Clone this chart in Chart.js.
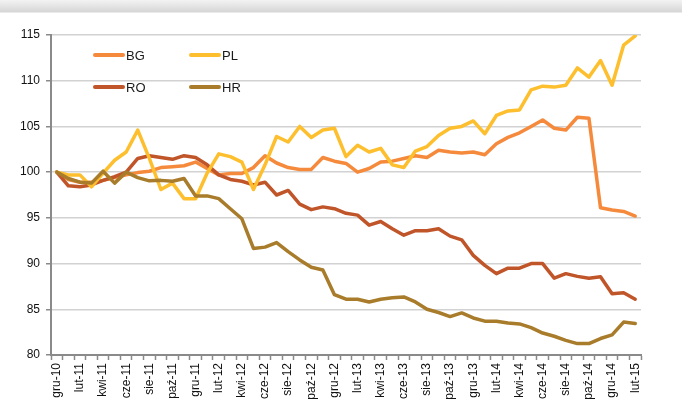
<!DOCTYPE html>
<html>
<head>
<meta charset="utf-8">
<script src="https://cdn.jsdelivr.net/npm/chart.js@4"></script>
<style>
  html, body { margin: 0; padding: 0; }
  body {
    width: 682px; height: 419px; overflow: hidden;
    background: linear-gradient(#f3f3f3 0px, #d6d6d6 12px, #ffffff 13px);
  }
  canvas { display: block; }
</style>
</head>
<body>
<canvas id="chart" width="682" height="419"></canvas>
<script>
// Miesiace od gru-10 do lut-15
const months = [
  'gru-10', 'sty-11', 'lut-11', 'mar-11', 'kwi-11', 'maj-11', 'cze-11', 'lip-11', 'sie-11', 'wrz-11',
  'paź-11', 'lis-11', 'gru-11', 'sty-12', 'lut-12', 'mar-12', 'kwi-12', 'maj-12', 'cze-12', 'lip-12',
  'sie-12', 'wrz-12', 'paź-12', 'lis-12', 'gru-12', 'sty-13', 'lut-13', 'mar-13', 'kwi-13', 'maj-13',
  'cze-13', 'lip-13', 'sie-13', 'wrz-13', 'paź-13', 'lis-13', 'gru-13', 'sty-14', 'lut-14', 'mar-14',
  'kwi-14', 'maj-14', 'cze-14', 'lip-14', 'sie-14', 'wrz-14', 'paź-14', 'lis-14', 'gru-14', 'sty-15',
  'lut-15',
];

const bgValues = [
  100, 99.2, 98.9, 98.9, 99.1, 99.4, 99.7, 99.95, 100.1, 100.5,
  100.6, 100.7, 101.1, 100.4, 99.7, 99.85, 99.85, 100.5, 101.8, 101.0,
  100.5, 100.3, 100.3, 101.6, 101.2, 100.95, 100.0, 100.4, 101.1, 101.2,
  101.5, 101.8, 101.6, 102.4, 102.2, 102.1, 102.2, 101.9, 103.1, 103.8,
  104.3, 105.0, 105.7, 104.8, 104.6, 106.0, 105.9, 96.1, 95.85, 95.7,
  95.2,
];

const plValues = [
  100, 99.7, 99.7, 98.4, 99.9, 101.3, 102.2, 104.6, 101.5, 98.1,
  98.8, 97.1, 97.1, 99.9, 102.0, 101.7, 101.1, 98.1, 100.8, 103.9,
  103.3, 105.0, 103.8, 104.6, 104.8, 101.7, 102.95, 102.2, 102.6, 100.8,
  100.5, 102.3, 102.8, 104.0, 104.8, 105.0, 105.6, 104.2, 106.2, 106.7,
  106.8, 109.0, 109.4, 109.3, 109.5, 111.4, 110.4, 112.2, 109.5, 113.9,
  114.9,
];

const roValues = [
  100, 98.5, 98.4, 98.6, 99.1, 99.5, 100.0, 101.5, 101.8, 101.6,
  101.4, 101.8, 101.6, 100.8, 99.7, 99.2, 99.0, 98.6, 98.9, 97.5,
  98.0, 96.5, 95.9, 96.2, 96.0, 95.5, 95.3, 94.2, 94.6, 93.8,
  93.1, 93.6, 93.6, 93.8, 93.0, 92.6, 90.9, 89.8, 88.9, 89.5,
  89.5, 90.0, 90.0, 88.4, 88.9, 88.6, 88.4, 88.55, 86.7, 86.8,
  86.1,
];

const hrValues = [
  100, 99.3, 98.9, 98.8, 100.1, 98.8, 100.0, 99.4, 99.05, 99.1,
  99.0, 99.3, 97.4, 97.4, 97.1, 96.0, 94.9, 91.65, 91.8, 92.3,
  91.3, 90.4, 89.6, 89.3, 86.6, 86.1, 86.1, 85.8, 86.1, 86.25,
  86.35, 85.8, 85.0, 84.65, 84.2, 84.6, 84.05, 83.7, 83.7, 83.5,
  83.4, 83.0, 82.4, 82.05, 81.6, 81.25, 81.25, 81.8, 82.2, 83.6,
  83.45,
];

const seriesNames = ['BG', 'PL', 'RO', 'HR'];
const seriesColors = ['#f58a3c', '#fdbf2d', '#c1552a', '#a87c2b'];
const seriesValues = [bgValues, plValues, roValues, hrValues];
// kolejnosc rysowania (nizsza = na wierzchu)
const drawOrder = [4, 2, 3, 1];

const FONT = '"Liberation Sans", Arial, sans-serif';

// legenda wewnatrz wykresu, w dwoch kolumnach
const insideLegend = {
  id: 'insideLegend',
  afterDatasetsDraw(chart) {
    const ctx = chart.ctx;
    const slots = [[93, 55], [189, 55], [93, 87], [189, 87]];
    ctx.save();
    ctx.lineCap = 'round';
    ctx.lineWidth = 4;
    ctx.font = '13px ' + FONT;
    ctx.textBaseline = 'middle';
    ctx.fillStyle = '#1a1a1a';
    seriesNames.forEach((name, i) => {
      const [x, y] = slots[i];
      ctx.strokeStyle = seriesColors[i];
      ctx.beginPath();
      ctx.moveTo(x + 2, y);
      ctx.lineTo(x + 30, y);
      ctx.stroke();
      ctx.fillText(name, x + 33, y + 1);
    });
    ctx.restore();
  },
};

const data = {
  labels: months,
  datasets: seriesNames.map((name, i) => ({
    label: name,
    data: seriesValues[i],
    borderColor: seriesColors[i],
    backgroundColor: seriesColors[i],
    borderWidth: 3.5,
    pointRadius: 0,
    tension: 0,
    borderJoinStyle: 'round',
    borderCapStyle: 'round',
    order: drawOrder[i],
  })),
};

const config = {
  type: 'line',
  data: data,
  options: {
    responsive: false,
    animation: false,
    layout: {
      padding: {top: 35, right: 41, bottom: 0, left: 0},
    },
    plugins: {
      legend: {display: false},
      tooltip: {enabled: false},
    },
    scales: {
      x: {
        offset: true,
        grid: {
          offset: true,
          drawOnChartArea: false,
          drawTicks: true,
          tickLength: 5,
          tickColor: '#8a8a8a',
          tickWidth: 1.5,
        },
        border: {color: '#8a8a8a', width: 2},
        ticks: {
          autoSkip: false,
          maxRotation: 90,
          minRotation: 90,
          padding: 3,
          color: '#111',
          font: {family: FONT, size: 12},
          callback: function(value, index) {
            return index % 2 === 0 ? this.getLabelForValue(value) : '';
          },
        },
        afterFit(scale) {
          scale.height = 64;
        },
      },
      y: {
        min: 80,
        max: 115,
        grid: {
          color: '#d2d2d2',
          lineWidth: 1.5,
          tickColor: '#8a8a8a',
          tickLength: 5,
          tickWidth: 1.5,
        },
        border: {color: '#8a8a8a', width: 2, dash: [0, 0]},
        ticks: {
          stepSize: 5,
          padding: 6,
          color: '#111',
          font: {family: FONT, size: 12},
        },
        afterFit(scale) {
          scale.width = 51;
        },
      },
    },
  },
  plugins: [insideLegend],
};

// linie siatki przerywane
config.options.scales.y.grid.borderDash = [5, 3];
config.options.scales.y.border.dash = undefined;
config.options.scales.y.grid.tickBorderDash = [0, 0];

new Chart(
    document.getElementById('chart'),
    config,
);
</script>
</body>
</html>
